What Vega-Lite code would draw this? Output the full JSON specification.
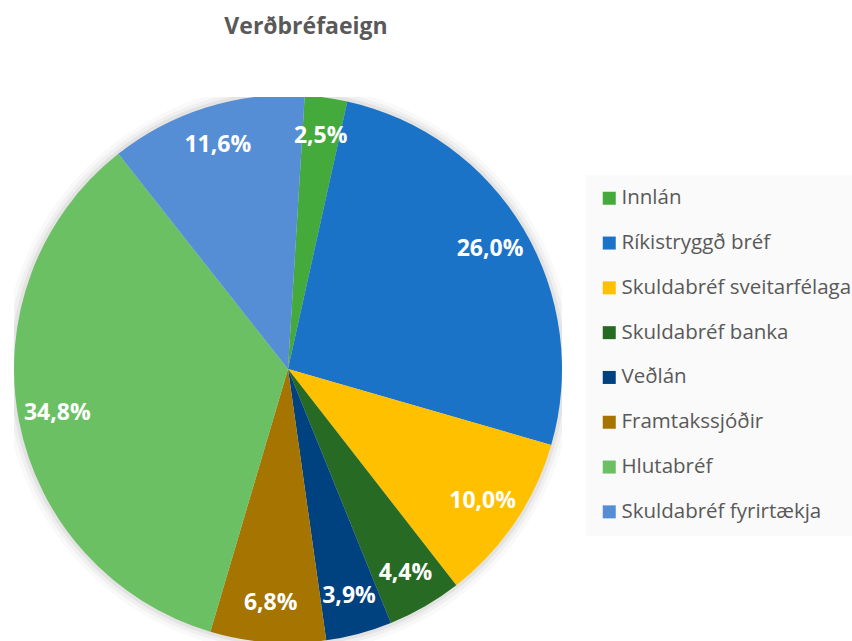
{
  "$schema": "https://vega.github.io/schema/vega-lite/v6.json",
  "width": 548,
  "height": 544,
  "autosize": {"type": "none"},
  "padding": {"left": 14, "top": 97, "right": 290, "bottom": 0},
  "background": "#FFFFFF",
  "title": {
    "text": "Verðbréfaeign",
    "font": "Open Sans",
    "fontSize": 23,
    "fontWeight": "bold",
    "color": "#595959",
    "anchor": "middle",
    "dx": 18,
    "offset": 58
  },
  "data": {
    "values": [
      {"flokkur": "Innlán", "hlutfall": 0.025, "rod": 1},
      {"flokkur": "Ríkistryggð bréf", "hlutfall": 0.26, "rod": 2},
      {"flokkur": "Skuldabréf sveitarfélaga", "hlutfall": 0.10, "rod": 3},
      {"flokkur": "Skuldabréf banka", "hlutfall": 0.044, "rod": 4},
      {"flokkur": "Veðlán", "hlutfall": 0.039, "rod": 5},
      {"flokkur": "Framtakssjóðir", "hlutfall": 0.068, "rod": 6},
      {"flokkur": "Hlutabréf", "hlutfall": 0.348, "rod": 7},
      {"flokkur": "Skuldabréf fyrirtækja", "hlutfall": 0.116, "rod": 8}
    ]
  },
  "layer": [
    {
      "transform": [{"aggregate": [{"op": "sum", "field": "hlutfall", "as": "alls"}]}],
      "mark": {"type": "arc", "outerRadius": 285, "theta": 6.2832, "clip": true, "fill": "#000000", "opacity": 0.025, "stroke": null}
    },
    {
      "transform": [{"aggregate": [{"op": "sum", "field": "hlutfall", "as": "alls"}]}],
      "mark": {"type": "arc", "outerRadius": 281, "theta": 6.2832, "clip": true, "fill": "#000000", "opacity": 0.035, "stroke": null}
    },
    {
      "transform": [{"aggregate": [{"op": "sum", "field": "hlutfall", "as": "alls"}]}],
      "mark": {"type": "arc", "outerRadius": 277.5, "theta": 6.2832, "clip": true, "fill": "#000000", "opacity": 0.05, "stroke": null}
    },
    {
      "mark": {"type": "arc", "outerRadius": 274, "clip": true, "stroke": null},
      "encoding": {
        "theta": {"field": "hlutfall", "type": "quantitative", "stack": true, "scale": {"range": [0.0611, 6.3443]}},
        "order": {"field": "rod", "type": "quantitative"},
        "color": {
          "field": "flokkur",
          "type": "nominal",
          "scale": {
            "domain": ["Innlán", "Ríkistryggð bréf", "Skuldabréf sveitarfélaga", "Skuldabréf banka", "Veðlán", "Framtakssjóðir", "Hlutabréf", "Skuldabréf fyrirtækja"],
            "range": ["#44AA3C", "#1B73C8", "#FFC000", "#276A24", "#004280", "#A67400", "#6CC064", "#558ED4"]
          },
          "legend": {
            "title": null,
            "orient": "none",
            "legendX": 572,
            "legendY": 78,
            "fillColor": "#FAFAFA",
            "padding": 13,
            "symbolType": "square",
            "symbolSize": 169,
            "symbolStrokeWidth": 0,
            "labelFont": "Open Sans",
            "labelFontSize": 20.5,
            "labelColor": "#595959",
            "labelOffset": 2,
            "rowPadding": 23.8,
            "labelLimit": 400
          }
        }
      }
    },
    {
      "mark": {"type": "text", "radius": 235, "font": "Open Sans", "fontSize": 23, "fontWeight": "bold", "color": "#FFFFFF", "align": "center", "baseline": "middle"},
      "encoding": {
        "theta": {"field": "hlutfall", "type": "quantitative", "stack": true, "scale": {"range": [0.0611, 6.3443]}},
        "order": {"field": "rod", "type": "quantitative"},
        "text": {"field": "hlutfall", "type": "quantitative", "format": ".1%"}
      }
    }
  ],
  "config": {
    "view": {"stroke": null},
    "locale": {"number": {"decimal": ",", "thousands": ".", "grouping": [3], "currency": ["", " kr."]}}
  }
}
